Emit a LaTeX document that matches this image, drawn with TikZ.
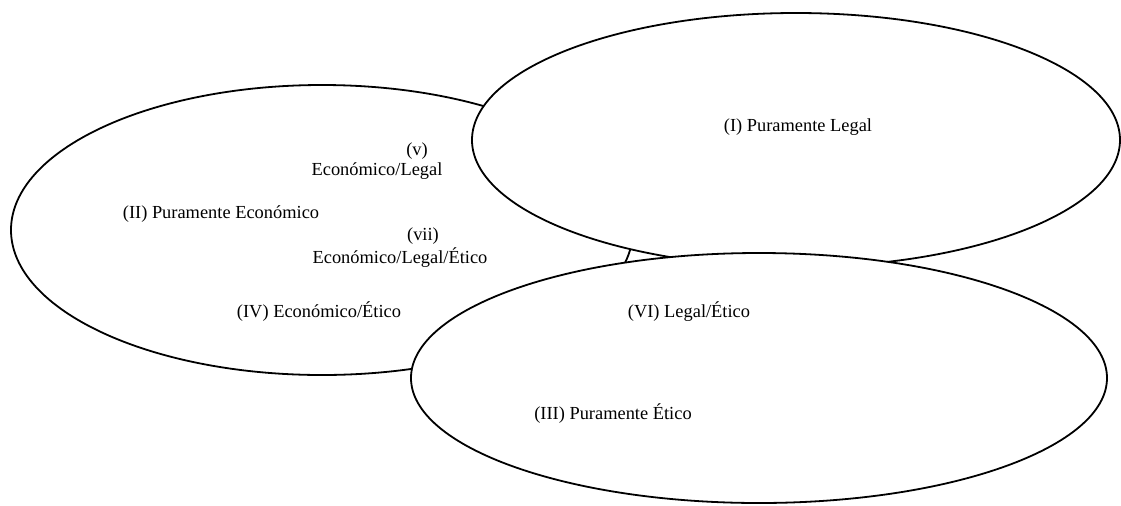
\documentclass[tikz,border=0pt]{standalone}
\usepackage{fontspec}
\setmainfont{Liberation Serif}
\usetikzlibrary{shapes.geometric}
\begin{document}
\begin{tikzpicture}[x=0.5pt,y=-0.5pt,
  setoval/.style={draw=black,fill=white,ellipse,line width=0.9pt,inner sep=0pt,outer sep=0pt},
  lbl/.style={font=\fontsize{9.2pt}{11pt}\selectfont,inner sep=0pt,anchor=center}]
\useasboundingbox (0,0) rectangle (1121,505);
\node[setoval,minimum width=311pt,minimum height=145pt] (econ) at (322,230) {};
\node[setoval,minimum width=324pt,minimum height=127pt] (legal) at (796,140) {};
\node[setoval,minimum width=348pt,minimum height=125pt] (etico) at (759,378) {};
\node[lbl] (tI) at (798,127) {(I) Puramente Legal};
\node[lbl] (tII) at (221,214) {(II) Puramente Económico};
\node[lbl] (tv) at (417,151) {(v)};
\node[lbl] (tvb) at (377,171) {Económico/Legal};
\node[lbl] (tvii) at (423,236) {(vii)};
\node[lbl] (tviib) at (400,258) {Económico/Legal/Ético};
\node[lbl] (tIV) at (319,312) {(IV) Económico/Ético};
\node[lbl] (tVI) at (689,312) {(VI) Legal/Ético};
\node[lbl] (tIII) at (613,414) {(III) Puramente Ético};
\end{tikzpicture}
\end{document}
